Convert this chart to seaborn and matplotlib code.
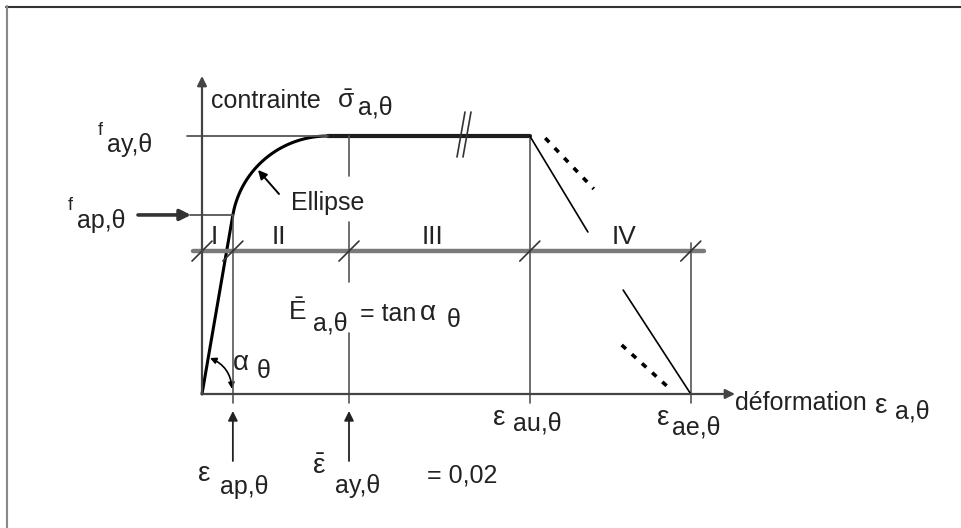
"""
Loi contrainte-déformation de l'acier à température élevée (schéma EC3).
"""

import numpy as np
import pandas as pd
import matplotlib.pyplot as plt
import seaborn as sns
from matplotlib.lines import Line2D
from matplotlib.patches import FancyArrowPatch

# points caractéristiques (unités schématiques)
eps_ap = 0.0042     # limite de proportionnalité
eps_join = 0.0171   # fin de l'ellipse
eps_ay = 0.020
eps_au = 0.0446
eps_ae = 0.0665
f_ap = 0.694
f_ay = 1.0
band_y = 0.554      # ligne des domaines I..IV

region_labels = ["I", "II", "III", "IV"]
region_x = [0.0017, 0.0104, 0.0313, 0.0574]
band_ticks = [0.0, eps_ap, eps_ay, eps_au, eps_ae]

# branches descendantes
upper_solid_x = [eps_au, 0.0525]
upper_solid_y = [f_ay, 0.628]
upper_dash_x = [0.0467, 0.0533]
upper_dash_y = [0.992, 0.795]
lower_solid_x = [0.0573, eps_ae]
lower_solid_y = [0.403, 0.0]
lower_dash_x = [0.0571, 0.0634]
lower_dash_y = [0.190, 0.027]

# mise en page : pixel -> unités du schéma
X0, Y0, SX, SY = 202, 394, 7350, 258


def px(x, y):
    return (x - X0) / SX, (Y0 - y) / SY


sns.set_style("white")
plt.rcParams["font.family"] = ["Liberation Sans", "DejaVu Sans"]
plt.rcParams["mathtext.fontset"] = "custom"
plt.rcParams["mathtext.rm"] = "Liberation Sans"
plt.rcParams["mathtext.it"] = "Liberation Sans"

fig = plt.figure(figsize=(9.61, 5.28), dpi=100)
ax = fig.add_axes([0, 0, 1, 1])
ax.set_xlim(px(0, 0)[0], px(961, 0)[0])
ax.set_ylim(px(0, 528)[1], px(0, 0)[1])

TXT = "#222222"
THIN = "#555555"

# ellipse EC3 entre f_ap et f_ay
E = f_ap / eps_ap
d = eps_join - eps_ap
c = (f_ay - f_ap) ** 2 / (d * E - 2 * (f_ay - f_ap))
a = np.sqrt(d * (d + c / E))
b = np.sqrt(c * d * E + c ** 2)
eps_ell = np.linspace(eps_ap, eps_join, 80)
sig_ell = f_ap - c + b / a * np.sqrt(np.clip(a ** 2 - (eps_join - eps_ell) ** 2, 0, None))

curve = pd.DataFrame({"eps": np.r_[0.0, eps_ell], "sig": np.r_[0.0, sig_ell]})
sns.lineplot(data=curve, x="eps", y="sig", sort=False, estimator=None,
             color="black", lw=2.2, ax=ax)
sns.lineplot(x=[eps_join, eps_au], y=[f_ay, f_ay], sort=False, estimator=None,
             color="#1e1e1e", lw=3.0, ax=ax)

# lignes de repère
ax.plot([px(187, 0)[0], eps_join], [f_ay, f_ay], color=THIN, lw=1.3)
ax.plot([px(190, 0)[0], eps_ap], [f_ap, f_ap], color=THIN, lw=1.3)
ax.plot([px(193, 0)[0], px(704, 0)[0]], [band_y, band_y], color="#7a7a7a", lw=3.2)
ax.plot([eps_ap, eps_ap], [f_ap, -0.035], color=THIN, lw=1.2)
for y0, y1 in [(f_ay, 0.845), (0.667, 0.434), (0.236, -0.035)]:
    ax.plot([eps_ay, eps_ay], [y0, y1], color=THIN, lw=1.2)
ax.plot([eps_au, eps_au], [f_ay, -0.035], color=THIN, lw=1.2)
ax.plot([eps_ae, eps_ae], [0.585, -0.035], color=THIN, lw=1.2)

# traits obliques sur la ligne des domaines
hx, hy = 10 / SX, 10 / SY
for xt in band_ticks:
    ax.plot([xt - hx, xt + hx], [band_y - hy, band_y + hy], color="#333333", lw=1.2)

# coupure //
for off in [0, 6]:
    x1, y1 = px(457 + off, 157)
    x2, y2 = px(465 + off, 112)
    ax.plot([x1, x2], [y1, y2], color="#333333", lw=1.2)

# branches descendantes
ax.plot(upper_solid_x, upper_solid_y, color="black", lw=1.2)
ax.plot(lower_solid_x, lower_solid_y, color="black", lw=1.2)
ax.plot(upper_dash_x, upper_dash_y, color="black", lw=2.6, ls=(0, (1.6, 2.2)))
ax.plot(lower_dash_x, lower_dash_y, color="black", lw=2.6, ls=(0, (1.6, 2.2)))

# axes et flèches
arrow = dict(arrowstyle="-|>", color="#444444", lw=1.6, mutation_scale=14,
             shrinkA=0, shrinkB=0)
ax.annotate("", xy=(0, px(0, 76)[1]), xytext=(0, 0), arrowprops=arrow)
ax.annotate("", xy=(px(735, 0)[0], 0), xytext=(0, 0), arrowprops=arrow)
ax.annotate("", xy=(px(191, 0)[0], f_ap), xytext=(px(138, 0)[0], f_ap),
            arrowprops=dict(arrow, lw=2.6, color="#333333", mutation_scale=16))
for xa in [eps_ap, eps_ay]:
    ax.annotate("", xy=(xa, px(0, 411)[1]), xytext=(xa, px(0, 461)[1]),
                arrowprops=dict(arrow, lw=1.3, color="#222222", mutation_scale=14))
ax.annotate("", xy=px(258, 170), xytext=px(279, 194),
            arrowprops=dict(arrow, lw=1.4, color="black", mutation_scale=13))
ax.add_patch(FancyArrowPatch(px(210, 358), px(232, 389), arrowstyle="<|-|>",
                             connectionstyle="arc3,rad=-0.3", color="black",
                             lw=1.2, mutation_scale=9, shrinkA=0, shrinkB=0))


def txt(x, y, s, size=18, **kw):
    ax.text(*px(x, y), s, fontsize=size, ha="left", va="baseline", color=TXT, **kw)


txt(211, 108, "contrainte")
txt(337, 108, r"$\bar{\sigma}$", size=19)
txt(358, 114, "a,θ")
txt(98, 135, "f", size=13)
txt(107, 152, "ay,θ")
txt(68, 210, "f", size=13)
txt(77, 228, "ap,θ")
txt(291, 210, "Ellipse")
for lab, xr in zip(region_labels, region_x):
    ax.text(xr, px(0, 244)[1], lab, fontsize=19, ha="center", va="baseline", color=TXT)
txt(288, 320, r"$\bar{\mathrm{E}}$", size=19)
txt(313, 331, "a,θ")
txt(360, 321, "= tan")
txt(420, 320, "α", size=20)
txt(447, 327, "θ")
txt(233, 370, "α", size=20)
txt(257, 378, "θ")
txt(735, 410, "déformation")
txt(875, 413, "ε", size=20)
txt(895, 418, "a,θ")
txt(493, 425, "ε", size=20)
txt(513, 431, "au,θ")
txt(657, 425, "ε", size=20)
txt(672, 434, "ae,θ")
txt(198, 481, "ε", size=20)
txt(220, 494, "ap,θ")
txt(312, 474, r"$\bar{\varepsilon}$", size=20)
txt(335, 493, "ay,θ")
txt(427, 482, "= 0,02")

ax.set_axis_off()

# cadre (haut et gauche)
fig.add_artist(Line2D([6 / 961, 1], [1 - 6.5 / 528] * 2, transform=fig.transFigure,
                      color="#333333", lw=1.5))
fig.add_artist(Line2D([6.5 / 961] * 2, [0, 1 - 6 / 528], transform=fig.transFigure,
                      color="#888888", lw=1.5))

fig.savefig("out.png", dpi=100)
